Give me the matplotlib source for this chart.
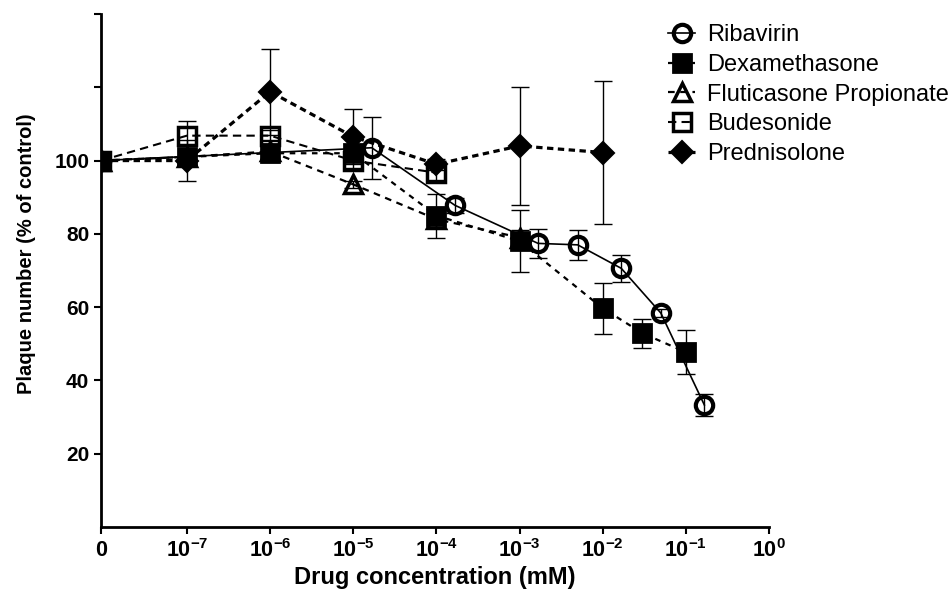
import matplotlib
matplotlib.use("Agg")
import matplotlib.pyplot as plt
from matplotlib.ticker import FixedLocator, NullLocator

plt.rcParams['font.family'] = ['Liberation Sans', 'DejaVu Sans']
plt.rcParams['mathtext.fontset'] = 'custom'
plt.rcParams['mathtext.rm'] = 'Liberation Sans:bold'
plt.rcParams['mathtext.bf'] = 'Liberation Sans:bold'
plt.rcParams['mathtext.it'] = 'Liberation Sans:bold'

# donnees (mM, % du controle)
riba_x = [0, 1.67e-5, 1.67e-4, 1.67e-3, 5e-3, 1.67e-2, 5e-2, 1.67e-1]
riba_y = [100, 103.5, 87.8, 77.4, 77.0, 70.6, 58.4, 33.3]
riba_err = [0, 8.5, 2.0, 4.0, 4.0, 3.7, 1.0, 3.0]

dexa_x = [0, 1e-7, 1e-6, 1e-5, 1e-4, 1e-3, 1e-2, 3e-2, 1e-1]
dexa_y = [100, 101, 102, 102, 85, 78, 59.7, 52.9, 47.7]
dexa_err = [0, 1, 1, 2, 6, 8.5, 7, 4, 6]

flut_x = [0, 1e-7, 1e-6, 1e-5, 1e-4, 1e-3]
flut_y = [100, 101, 102.5, 93.5, 84, 79]
flut_err = [0, 1, 3, 1, 2, 2]

bude_x = [0, 1e-7, 1e-6, 1e-5, 1e-4]
bude_y = [100, 106.8, 106.8, 100, 96.7]
bude_err = [0, 4, 1.5, 2, 2]

pred_x = [0, 1e-7, 1e-6, 1e-5, 1e-4, 1e-3, 1e-2]
pred_y = [100, 100, 118.8, 106.5, 99, 104, 102.2]
pred_err = [0, 5.5, 11.7, 7.5, 1.5, 16, 19.5]

tick_pos = [0, 1e-7, 1e-6, 1e-5, 1e-4, 1e-3, 1e-2, 1e-1, 1]
tick_lab = ['0', '$10^{-7}$', '$10^{-6}$', '$10^{-5}$', '$10^{-4}$',
            '$10^{-3}$', '$10^{-2}$', '$10^{-1}$', '$10^{0}$']

fig = plt.figure(figsize=(9.49, 5.89), dpi=100)
ax = fig.add_axes([101 / 949, 1 - 527 / 589, 668 / 949, 513 / 589])

# (x, y, err, nom, marqueur, ms, mew, remplissage, style, epaisseur)
series = [
    (riba_x, riba_y, riba_err, 'Ribavirin', 'o', 12.5, 3.0, 'none', '-', 1.2),
    (dexa_x, dexa_y, dexa_err, 'Dexamethasone', 's', 12.5, 2.0, 'black', (0, (2.5, 2.5)), 1.6),
    (flut_x, flut_y, flut_err, 'Fluticasone Propionate', '^', 13, 2.5, 'none', (0, (3, 2.5)), 1.6),
    (bude_x, bude_y, bude_err, 'Budesonide', 's', 12.5, 2.5, 'none', (0, (4, 2.5)), 1.5),
    (pred_x, pred_y, pred_err, 'Prednisolone', 'D', 11, 1.5, 'black', (0, (2, 1.4)), 2.3),
]

for xs, ys, es, lab, mk, ms, mew, fc, ls, lw in series:
    ax.errorbar(xs, ys, yerr=es, fmt='none', ecolor='black', elinewidth=1,
                capsize=6.5, capthick=1, zorder=2)
    ax.plot(xs, ys, color='black', linestyle=ls, linewidth=lw, marker=mk,
            markersize=ms, markerfacecolor=fc, markeredgecolor='black',
            markeredgewidth=mew, label=lab, zorder=3)

ax.set_xscale('symlog', linthresh=1e-7, linscale=0.93)
ax.set_xlim(0, 1)
ax.set_ylim(0, 140)
ax.xaxis.set_major_locator(FixedLocator(tick_pos))
ax.xaxis.set_minor_locator(NullLocator())
ax.set_xticklabels(tick_lab)
ax.set_yticks([20, 40, 60, 80, 100, 120, 140])
ax.set_yticklabels(['20', '40', '60', '80', '100', '', ''])

for s in ['top', 'right']:
    ax.spines[s].set_visible(False)
for s in ['left', 'bottom']:
    ax.spines[s].set_linewidth(2)
ax.tick_params(width=1.5, length=5)
ax.tick_params(axis='x', pad=4, labelsize=15.5)
ax.tick_params(axis='y', pad=3.5, labelsize=15)
for t in ax.get_yticklabels() + ax.get_xticklabels():
    t.set_fontweight('bold')

ax.set_xlabel('Drug concentration (mM)', fontsize=17, fontweight='bold')
ax.xaxis.set_label_coords(0.5, -0.099)
ax.xaxis.label.set_va('center')
ax.set_ylabel('Plaque number (% of control)', fontsize=14.5, fontweight='bold')
ax.yaxis.set_label_coords(-0.111, 0.533)
ax.yaxis.label.set_va('center')

ax.legend(loc='upper left', bbox_to_anchor=(668 / 949, 1 - 24 / 589),
          bbox_transform=fig.transFigure, frameon=False, fontsize=17,
          handlelength=1.15, handletextpad=0.5, labelspacing=0.33,
          borderpad=0, borderaxespad=0)

fig.savefig('out.png', dpi=100)
